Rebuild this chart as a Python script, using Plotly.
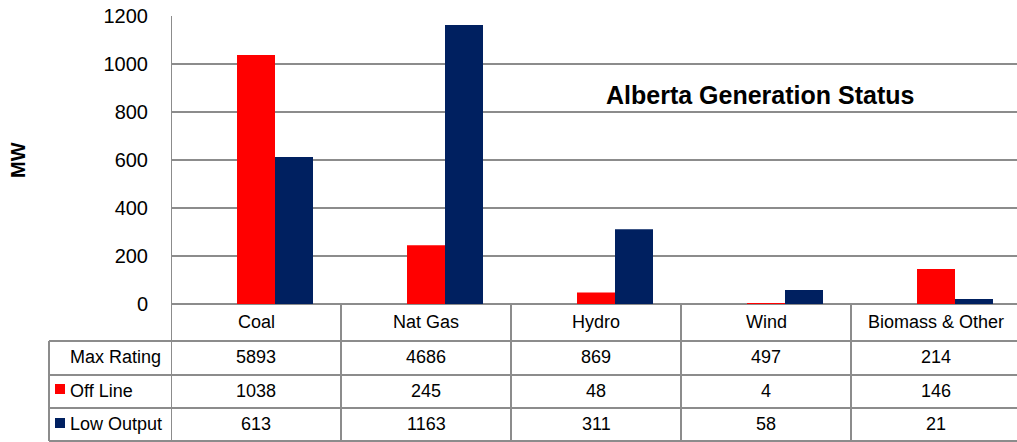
import plotly.graph_objects as go

categories = ["Coal", "Nat Gas", "Hydro", "Wind", "Biomass & Other"]
max_rating = [5893, 4686, 869, 497, 214]
off_line = [1038, 245, 48, 4, 146]
low_output = [613, 1163, 311, 58, 21]
row_labels = ["Max Rating", "Off Line", "Low Output"]
y_ticks = [0, 200, 400, 600, 800, 1000, 1200]

RED = "#FF0000"
NAVY = "#002060"
GRID = "#8c8c8c"
FONT = "Arial, Liberation Sans, sans-serif"

W, H = 1017, 442
L, R, T, B = 171, 0, 16, 138
pw = W - L - R
ph = H - T - B
col_px = 170.0
span = pw / col_px
bar_start = -(275 - L) / col_px        # bars sit slightly right of table columns
bar_range = [bar_start, bar_start + span]
table_range = [-0.5, -0.5 + span]


def py(p):  # pixel y -> paper y
    return (H - B - p) / ph


def px(p):  # pixel x -> paper x
    return (p - L) / pw


fig = go.Figure()
idx = list(range(len(categories)))
fig.add_trace(go.Bar(x=idx, y=off_line, name="Off Line",
                     marker=dict(color=RED, line=dict(width=0))))
fig.add_trace(go.Bar(x=idx, y=low_output, name="Low Output",
                     marker=dict(color=NAVY, line=dict(width=0))))

shapes = []
ann = []

row_lines_px = [341, 375, 408, 441]
for rp in row_lines_px:
    shapes.append(dict(type="line", xref="paper", yref="paper", x0=px(49), x1=1.0,
                       y0=py(rp), y1=py(rp), line=dict(color=GRID, width=2)))
for i in range(len(categories) + 1):
    shapes.append(dict(type="line", xref="x2", yref="paper", x0=i - 0.5, x1=i - 0.5,
                       y0=py(441), y1=0 if i > 0 else 1, line=dict(color=GRID, width=2)))
shapes.append(dict(type="line", xref="paper", yref="paper", x0=px(49), x1=px(49),
                   y0=py(341), y1=py(441), line=dict(color=GRID, width=2)))

for color, (y0, y1) in [(RED, (384, 394)), (NAVY, (418, 428))]:
    shapes.append(dict(type="rect", xref="paper", yref="paper", x0=px(55), x1=px(65),
                       y0=py(y1), y1=py(y0), fillcolor=color, line=dict(width=0)))

for i, c in enumerate(categories):
    ann.append(dict(x=i, y=py(322), xref="x2", yref="paper", text=c, showarrow=False,
                    font=dict(family=FONT, size=18, color="#000"), xanchor="center", yanchor="middle"))

rows = [max_rating, off_line, low_output]
row_y = [357, 391, 424]
for lbl, vals, ry in zip(row_labels, rows, row_y):
    ann.append(dict(x=px(68), y=py(ry), xref="paper", yref="paper", text=lbl, showarrow=False,
                    font=dict(family=FONT, size=18, color="#000"), xanchor="left", yanchor="middle"))
    for i, v in enumerate(vals):
        ann.append(dict(x=i, y=py(ry), xref="x2", yref="paper", text=str(v), showarrow=False,
                        font=dict(family=FONT, size=18, color="#000"), xanchor="center", yanchor="middle"))

ann.append(dict(x=px(760), y=py(95), xref="paper", yref="paper", text="<b>Alberta Generation Status</b>",
                showarrow=False, font=dict(family=FONT, size=25, color="#000"),
                xanchor="center", yanchor="middle"))
ann.append(dict(x=px(18), y=py(160), xref="paper", yref="paper", text="<b>MW</b>", textangle=-90,
                showarrow=False, font=dict(family=FONT, size=20, color="#000"),
                xanchor="center", yanchor="middle"))

fig.update_layout(
    width=W, height=H,
    margin=dict(l=L, r=R, t=T, b=B, pad=0),
    paper_bgcolor="white", plot_bgcolor="white",
    barmode="group", bargap=0.553, bargroupgap=0,
    showlegend=False,
    shapes=shapes, annotations=ann,
    font=dict(family=FONT, color="#000"),
    xaxis=dict(range=bar_range, showticklabels=False, showgrid=False, zeroline=False,
               showline=False, ticks=""),
    xaxis2=dict(range=table_range, overlaying="x", showticklabels=False, showgrid=False,
                zeroline=False, showline=False, ticks="", visible=False),
    yaxis=dict(range=[0, 1200], tickvals=y_ticks, showgrid=True, gridcolor=GRID, gridwidth=2,
               zeroline=True, zerolinecolor=GRID, zerolinewidth=2,
               showline=False, ticks="", ticklabelstandoff=22,
               tickfont=dict(family=FONT, size=20, color="#000")),
)

fig.write_html("out.html", config={"displayModeBar": False},
               post_script="document.body.style.margin='0';document.body.style.overflow='hidden';")
